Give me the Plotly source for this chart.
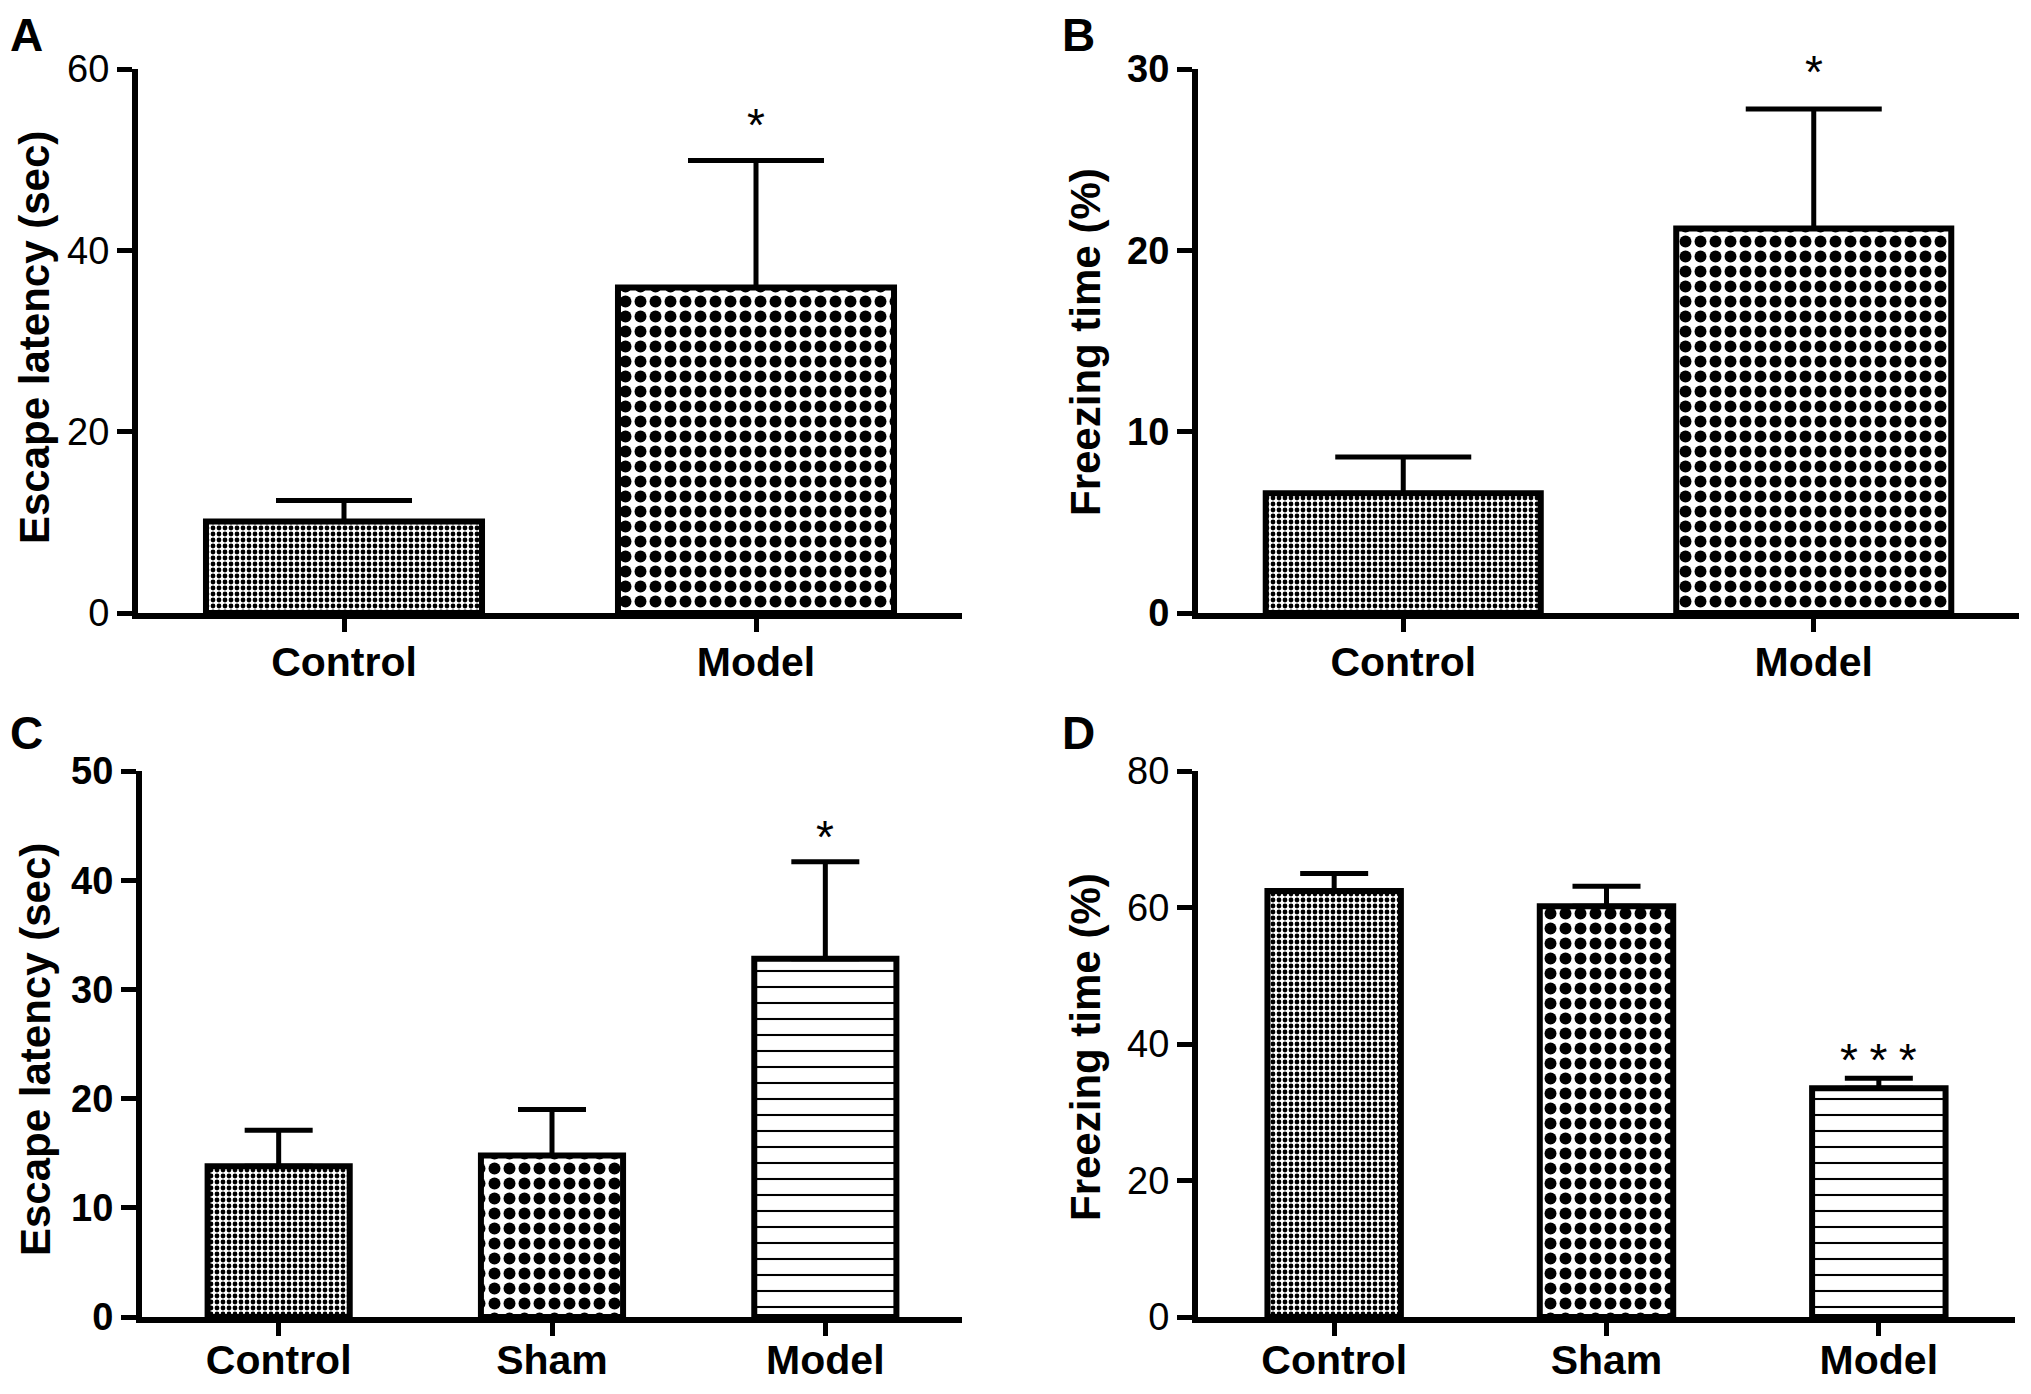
import plotly.graph_objects as go

W, H = 2031, 1394
OFF = 8  # page body margin around the figure div
FW, FH = W - 2 * OFF, H - 2 * OFF

# --- data ---
cats_ab = ["Control", "Model"]
cats_cd = ["Control", "Sham", "Model"]

escape_a = [10.1, 35.9]
escape_a_sem = [2.3, 14.0]
freeze_b = [6.6, 21.2]
freeze_b_sem = [2.0, 6.6]
escape_c = [13.8, 14.8, 32.8]
escape_c_sem = [3.3, 4.2, 8.9]
freeze_d = [62.4, 60.2, 33.5]
freeze_d_sem = [2.6, 2.9, 1.5]

stars_ab = ["", "*"]
stars_c = ["", "", "*"]
stars_d = ["", "", "*\u2005*\u2005*"]

ticks_a = [0, 20, 40, 60]
ticks_b = [0, 10, 20, 30]
ticks_c = [0, 10, 20, 30, 40, 50]
ticks_d = [0, 20, 40, 60, 80]

# fill styles: fine checker, coarse checker, horizontal lines
FILL = {
    "fine": dict(shape=".", size=6, solidity=0.5),
    "coarse": dict(shape=".", size=15, solidity=0.5),
    "lines": dict(shape="-", size=16, solidity=0.13),
}

FONT = "Liberation Sans, Arial, sans-serif"


# screen pixel -> paper fraction
def px_x(v):
    return (v - OFF) / FW


def px_y(v):
    return 1 - (v - OFF) / FH


panels = [
    dict(letter="A", cats=cats_ab, vals=escape_a, sem=escape_a_sem, stars=stars_ab,
         fills=["fine", "coarse"], ticks=ticks_a, title="Escape latency (sec)",
         xdom=[px_x(138), px_x(962)], ydom=[px_y(613), px_y(69)], bw=0.67, cap=68,
         bold=False, lx=9, ly=35, tx=35, ty=338, staroff=8, xstand=-5),
    dict(letter="B", cats=cats_ab, vals=freeze_b, sem=freeze_b_sem, stars=stars_ab,
         fills=["fine", "coarse"], ticks=ticks_b, title="Freezing time (%)",
         xdom=[px_x(1198), px_x(2019)], ydom=[px_y(613), px_y(69)], bw=0.67, cap=68,
         bold=True, lx=1061, ly=35, tx=1085, ty=342, staroff=9, xstand=-5),
    dict(letter="C", cats=cats_cd, vals=escape_c, sem=escape_c_sem, stars=stars_c,
         fills=["fine", "coarse", "lines"], ticks=ticks_c, title="Escape latency (sec)",
         xdom=[px_x(142), px_x(962)], ydom=[px_y(1317), px_y(771)], bw=0.52, cap=34,
         bold=True, lx=9, ly=733, tx=35, ty=1050, staroff=-3, xstand=-11),
    dict(letter="D", cats=cats_cd, vals=freeze_d, sem=freeze_d_sem, stars=stars_d,
         fills=["fine", "coarse", "lines"], ticks=ticks_d, title="Freezing time (%)",
         xdom=[px_x(1198), px_x(2015)], ydom=[px_y(1317), px_y(771)], bw=0.49, cap=34,
         bold=False, lx=1061, ly=733, tx=1085, ty=1047, staroff=-10, xstand=-11),
]

fig = go.Figure()
annotations = []
layout = {}

for i, p in enumerate(panels, start=1):
    xa = "x" if i == 1 else f"x{i}"
    ya = "y" if i == 1 else f"y{i}"
    fills = [FILL[f] for f in p["fills"]]
    fig.add_trace(go.Bar(
        x=p["cats"], y=p["vals"], xaxis=xa, yaxis=ya,
        width=p["bw"],
        marker=dict(
            color="white",
            line=dict(color="black", width=6),
            pattern=dict(
                shape=[f["shape"] for f in fills],
                size=[f["size"] for f in fills],
                solidity=[f["solidity"] for f in fills],
                fgcolor="black", bgcolor="white", fillmode="replace",
            ),
        ),
        error_y=dict(type="data", array=p["sem"], arrayminus=[0] * len(p["sem"]),
                     symmetric=False, color="black", thickness=5, width=p["cap"]),
        showlegend=False, hoverinfo="skip",
    ))

    tickfont = dict(family=FONT, size=38, color="black",
                    weight="bold" if p["bold"] else "normal")
    layout["xaxis" if i == 1 else f"xaxis{i}"] = dict(
        domain=p["xdom"], anchor=ya, range=[-0.5, len(p["cats"]) - 0.5],
        showline=True, linecolor="black", linewidth=6,
        ticks="outside", ticklen=13, tickwidth=5, tickcolor="black",
        tickfont=dict(family=FONT, size=41, color="black", weight="bold"),
        ticklabelstandoff=p["xstand"],
        showgrid=False, zeroline=False, fixedrange=True, automargin=False,
    )
    layout["yaxis" if i == 1 else f"yaxis{i}"] = dict(
        domain=p["ydom"], anchor=xa, range=[0, p["ticks"][-1]],
        tickvals=p["ticks"], showline=True, linecolor="black", linewidth=6,
        ticks="outside", ticklen=15, tickwidth=5, tickcolor="black",
        tickfont=tickfont, ticklabelstandoff=0,
        showgrid=False, zeroline=False, fixedrange=True, automargin=False,
    )

    # panel letter
    annotations.append(dict(text=f"<b>{p['letter']}</b>", xref="paper", yref="paper",
                            x=px_x(p["lx"]), y=px_y(p["ly"]), xanchor="left", yanchor="middle",
                            showarrow=False, borderpad=0,
                            font=dict(family=FONT, size=46, color="black")))
    # y axis title
    annotations.append(dict(text=f"<b>{p['title']}</b>", xref="paper", yref="paper",
                            x=px_x(p["tx"]), y=px_y(p["ty"]), xanchor="center", yanchor="middle",
                            textangle=-90, showarrow=False, borderpad=0,
                            font=dict(family=FONT, size=42, color="black")))
    # significance marks
    for c, v, e, s in zip(p["cats"], p["vals"], p["sem"], p["stars"]):
        if s:
            annotations.append(dict(text=s, xref=xa, yref=ya, x=c, y=v + e,
                                    xanchor="center", yanchor="bottom", yshift=p["staroff"],
                                    showarrow=False,
                                    font=dict(family=FONT, size=46, color="black")))

fig.update_layout(
    width=FW, height=FH,
    margin=dict(l=0, r=0, t=0, b=0, autoexpand=False),
    paper_bgcolor="white", plot_bgcolor="white",
    annotations=annotations,
    **layout,
)

fig.write_html("out.html")
